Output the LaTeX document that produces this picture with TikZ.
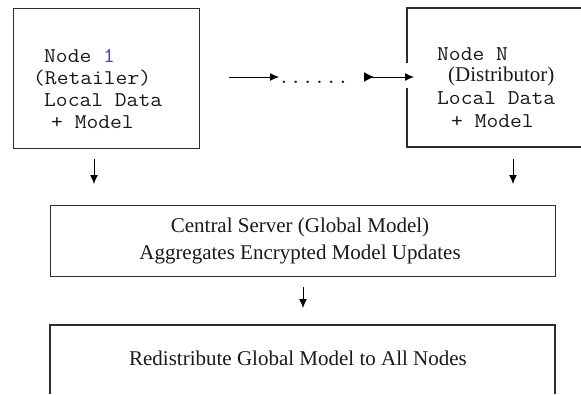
\documentclass[tikz,border=0pt]{standalone}
\usepackage{fontspec}
\setmainfont{Liberation Serif}
\usetikzlibrary{arrows.meta}
\definecolor{numblue}{RGB}{60,60,225}
\definecolor{linegray}{RGB}{45,45,45}
\newcommand{\monotext}[1]{\scalebox{1.09}[1]{\fontsize{21}{22}\selectfont\ttfamily #1}}
\begin{document}
\begin{tikzpicture}[x=1pt,y=-1pt,
  boxline/.style={line width=1.3pt, draw=linegray},
  flow/.style={line width=1pt, draw=black, -{Latex[length=9pt,width=8pt]}},
  mono/.style={inner sep=0pt, text=black!90},
  serif/.style={font=\fontsize{21}{27}\selectfont, inner sep=0pt, text=black!90}]
\useasboundingbox (0,0) rectangle (581,394);
% left node box
\node[boxline, draw, minimum width=186pt, minimum height=140pt, anchor=north west, inner sep=0pt] (n1) at (13,8) {};
\node[mono, anchor=base west] (n1a) at (44,62) {\monotext{Node \textcolor{numblue}{1}}};
\node[mono, anchor=base west] (n1b) at (33,84) {\monotext{(Retailer)}};
\node[mono, anchor=base west] (n1c) at (44,106) {\monotext{Local Data}};
\node[mono, anchor=base west] (n1d) at (51,128) {\monotext{+ Model}};
% right node box (open at right edge)
\coordinate (nNtl) at (407,8);
\coordinate (nNbl) at (407,147);
\draw[boxline] (581,8) -- (nNtl) -- (407,63);
\draw[boxline] (407,88) -- (nNbl) -- (581,147);
\node[mono, anchor=base west] (nNa) at (437,60) {\monotext{Node N}};
\node[serif, anchor=base west] (nNb) at (448,81) {(Distributor)\raisebox{1pt}{\fontsize{7}{8}\selectfont\color{black!50}:}};
\node[mono, anchor=base west] (nNc) at (437,104) {\monotext{Local Data}};
\node[mono, anchor=base west] (nNd) at (451,127) {\monotext{+ Model}};
% horizontal chain
\coordinate (h1s) at (229,77);
\coordinate (h1e) at (279,77);
\node[mono, anchor=base west] (dots) at (278,83) {\monotext{......}};
\coordinate (h2s) at (364,77);
\coordinate (h2e) at (414,77);
\draw[flow] (h1s) -- (h1e);
\draw[line width=1pt, {Latex[length=10pt,width=10pt,reversed]}-{Latex[length=9pt,width=8pt]}] (h2s) -- (h2e);
% central server
\node[boxline, draw, minimum width=505pt, minimum height=71pt, anchor=north west, inner sep=0pt] (cs) at (50,205) {};
\node[serif, anchor=base] (csa) at (300,232) {Central Server (Global Model)};
\node[serif, anchor=base] (csb) at (300,259) {Aggregates Encrypted Model Updates};
% arrows to central server
\coordinate (a1s) at (94,159);
\coordinate (a1e) at (94,184);
\coordinate (a2s) at (513,159);
\coordinate (a2e) at (513,184);
\draw[flow] (a1s) -- (a1e);
\draw[flow] (a2s) -- (a2e);
% arrow to redistribute
\coordinate (a3s) at (303,287);
\coordinate (a3e) at (303,308);
\draw[flow] (a3s) -- (a3e);
% bottom box (open at bottom edge)
\draw[boxline] (50,394) -- (50,325) -- (555,325) -- (555,394);
\node[serif, anchor=base] (rd) at (298,365) {Redistribute Global Model to All Nodes};
\end{tikzpicture}
\end{document}
